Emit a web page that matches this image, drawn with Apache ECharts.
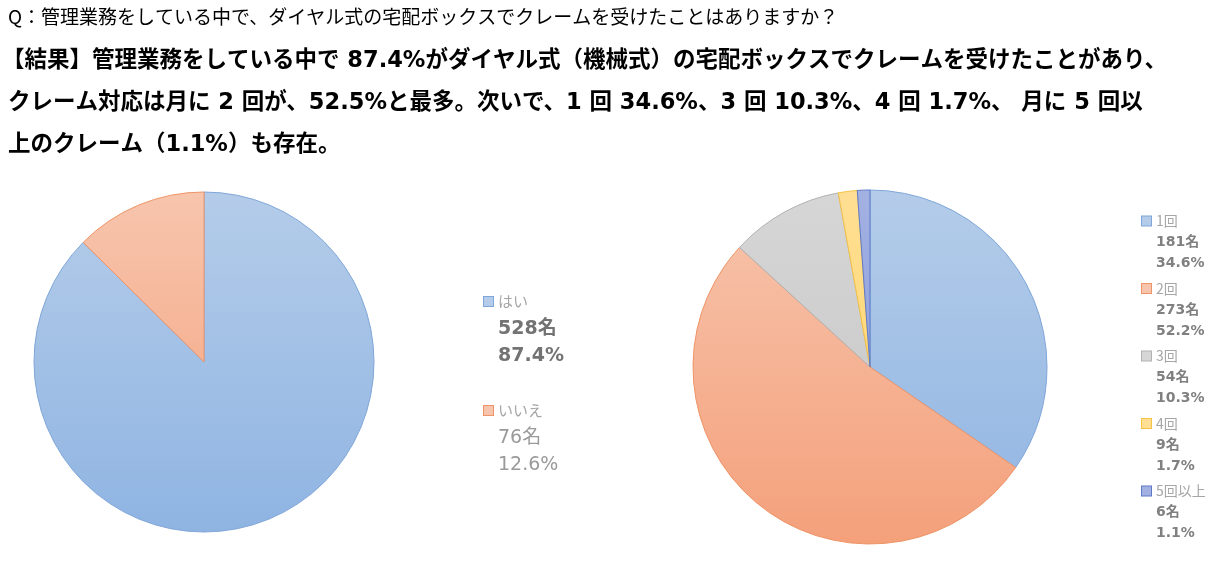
<!DOCTYPE html>
<html>
<head>
<meta charset="utf-8">
<script src="https://cdn.jsdelivr.net/npm/echarts@6/dist/echarts.min.js"></script>
<style>
  html, body { margin: 0; padding: 0; background: #fff; }
  #main { width: 1224px; height: 578px; }
</style>
</head>
<body>
<div id="main"></div>
<script>
// heading lines
const titleLines = [
  'Q：管理業務をしている中で、ダイヤル式の宅配ボックスでクレームを受けたことはありますか？',
  '【結果】管理業務をしている中で 87.4%がダイヤル式（機械式）の宅配ボックスでクレームを受けたことがあり、',
  'クレーム対応は月に 2 回が、52.5%と最多。次いで、1 回 34.6%、3 回 10.3%、4 回 1.7%、 月に 5 回以',
  '上のクレーム（1.1%）も存在。'
];

// left pie: ダイヤル式でクレームを受けたか
const leftNames = ['はい', 'いいえ'];
const leftCounts = [528, 76];
const leftPercents = ['87.4%', '12.6%'];

// right pie: 月のクレーム回数
const rightNames = ['1回', '2回', '3回', '4回', '5回以上'];
const rightCounts = [181, 273, 54, 9, 6];
const rightPercents = ['34.6%', '52.2%', '10.3%', '1.7%', '1.1%'];

const FONT = '"Noto Sans CJK JP", "Noto Sans", sans-serif';
const FONT_W = '"DejaVu Sans", "Noto Sans CJK JP", sans-serif';

// colours: [top, bottom, border]
const leftColors = [
  ['#b4cce9', '#8fb4e2', '#7fa6d9'],
  ['#f7c5ad', '#f4a07b', '#ef9466']
];
const rightColors = [
  ['#b4cce9', '#8fb4e2', '#7fa6d9'],
  ['#f7c5ad', '#f4a07b', '#ef9466'],
  ['#d6d6d6', '#c4c4c4', '#b2b2b2'],
  ['#ffdf94', '#ffd25f', '#f6c244'],
  ['#a3b1e2', '#8095d8', '#5f7ac9']
];

function grad(c, y0, y1) {
  return new echarts.graphic.LinearGradient(0, y0, 0, y1, [
    { offset: 0, color: c[0] },
    { offset: 1, color: c[1] }
  ], true);
}

function pieData(names, counts, colors, y0, y1) {
  return names.map(function (n, i) {
    return {
      name: n,
      value: counts[i],
      itemStyle: { color: grad(colors[i], y0, y1), borderColor: colors[i][2], borderWidth: 1 }
    };
  });
}

function legendRich(colors, nameSize, valSize, nameLH, valLH, boldFlags, valColors) {
  let rich = {};
  colors.forEach(function (c, i) {
    rich['i' + i] = { width: 9, height: 9, backgroundColor: c[0], borderColor: c[2], borderWidth: 1 };
    rich['v' + i] = {
      fontFamily: FONT_W, fontSize: valSize, lineHeight: valLH,
      fontWeight: boldFlags[i] ? 'bold' : 'normal', color: valColors[i], padding: [0, 0, 0, 14]
    };
  });
  rich.n = { fontFamily: FONT, fontSize: nameSize, lineHeight: nameLH, color: '#a6a6a6', padding: [0, 0, 0, 5] };
  return rich;
}

let chart = echarts.init(document.getElementById('main'));

const titleCenters = [18, 62, 104, 146];

let option = {
  backgroundColor: '#fff',
  animation: false,
  graphic: titleLines.map(function (t, i) {
    let size = i === 0 ? 19 : 22.5;
    return {
      type: 'text',
      left: i === 1 ? 2 : 8,
      top: titleCenters[i] - size / 2 - 1,
      style: {
        text: t,
        fontFamily: i === 0 ? FONT : FONT_W,
        fontSize: size,
        fontWeight: i === 0 ? 'normal' : 'bold',
        fill: '#000'
      }
    };
  }),
  legend: [
    {
      orient: 'vertical',
      left: 479,
      top: 294,
      padding: 0,
      itemGap: 37,
      itemWidth: 0,
      itemHeight: 10,
      icon: 'none',
      selectedMode: false,
      data: leftNames,
      formatter: function (name) {
        let i = leftNames.indexOf(name);
        return '{i' + i + '|}{n|' + name + '}\n{v' + i + '|' + leftCounts[i] + '名}\n{v' + i + '|' + leftPercents[i] + '}';
      },
      textStyle: {
        rich: legendRich(leftColors, 15, 19, 29, 27, [true, false], ['#737373', '#9a9a9a'])
      }
    },
    {
      orient: 'vertical',
      left: 1137,
      top: 214,
      padding: 0,
      itemGap: 11,
      itemWidth: 0,
      itemHeight: 10,
      icon: 'none',
      selectedMode: false,
      data: rightNames,
      formatter: function (name) {
        let i = rightNames.indexOf(name);
        return '{i' + i + '|}{n|' + name + '}\n{v' + i + '|' + rightCounts[i] + '名}\n{v' + i + '|' + rightPercents[i] + '}';
      },
      textStyle: {
        rich: legendRich(rightColors, 14, 14, 22, 21, [true, true, true, true, true],
          ['#808080', '#808080', '#808080', '#808080', '#808080'])
      }
    }
  ],
  series: [
    {
      type: 'pie',
      center: [204, 362],
      radius: 170,
      startAngle: 90,
      clockwise: true,
      label: { show: false },
      labelLine: { show: false },
      emphasis: { disabled: true },
      data: pieData(leftNames, leftCounts, leftColors, 192, 532)
    },
    {
      type: 'pie',
      center: [870, 367],
      radius: 177,
      startAngle: 90,
      clockwise: true,
      label: { show: false },
      labelLine: { show: false },
      emphasis: { disabled: true },
      data: pieData(rightNames, rightCounts, rightColors, 190, 544)
    }
  ]
};

chart.setOption(option);
</script>
</body>
</html>
